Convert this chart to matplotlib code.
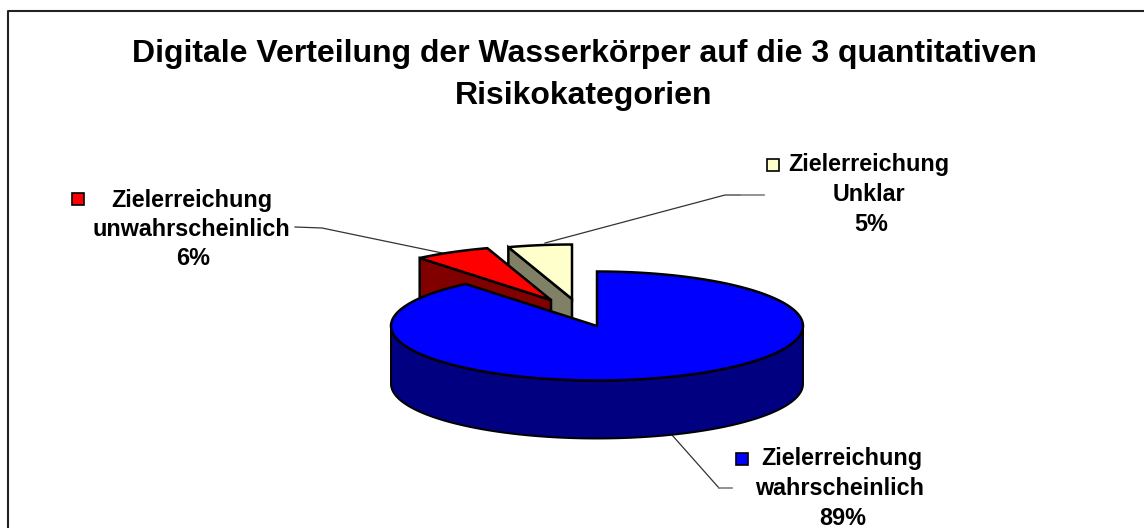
import numpy as np
import matplotlib
matplotlib.use('Agg')
import matplotlib.pyplot as plt
from matplotlib.patches import Polygon

plt.rcParams['font.family'] = ['Liberation Sans', 'DejaVu Sans']

title_lines = ['Digitale Verteilung der Wasserkörper auf die 3 quantitativen', 'Risikokategorien']
categories = [['Zielerreichung', 'Unklar'], ['Zielerreichung', 'unwahrscheinlich'], ['Zielerreichung', 'wahrscheinlich']]
shares = [5, 6, 89]
top_colors = ['#ffffcc', '#ff0000', '#0000ff']
side_colors = ['#808066', '#800000', '#000080']

cx, cy = 597, 326   # pie centre in pixels
rx, ry = 206, 54.5
depth = 58
explode = [(-25, -27), (-46, -26), (0, 0)]


def rim(t, dx=0, dy=0):
    t = np.radians(t)
    return np.column_stack([cx + dx + rx * np.cos(t), cy + dy - ry * np.sin(t)])


fig = plt.figure(figsize=(11.44, 5.28), dpi=100)
ax = fig.add_axes([0, 0, 1, 1])
ax.set_xlim(0, 1144)
ax.set_ylim(528, 0)
ax.axis('off')

# frame, right side is cut off in the original
ax.plot([7.5, 7.5, 1144], [528, 11, 11], color='#222222', lw=1.5)

# slices run counter clockwise from 12 o'clock
edges = 90 + np.cumsum([0] + shares) * 3.6
for i, share in enumerate(shares):
    a0, a1 = edges[i], edges[i + 1]
    dx, dy = explode[i]
    apex = np.array([[cx + dx, cy + dy]])
    arc = rim(np.linspace(a0, a1, 200), dx, dy)
    if i < 2:
        # cut face on the far edge of the slice
        p = rim(np.array([a1]), dx, dy)
        face = np.vstack([p, apex, apex + [0, depth], p + [0, depth]])
        ax.add_patch(Polygon(face, fc=side_colors[i], ec='black', lw=1.8, zorder=i + 2))
    else:
        # outer wall of the big slice, front half only
        t = np.linspace(180, 360, 200)
        wall = np.vstack([rim(t), rim(t[::-1], 0, depth)])
        ax.add_patch(Polygon(wall, fc=side_colors[i], ec='black', lw=1.4, zorder=i + 2))
    ax.add_patch(Polygon(np.vstack([apex, arc]), fc=top_colors[i], ec='black', lw=1.8, zorder=i + 2.5))

# leader lines
ax.plot([545, 725, 740], [243, 195, 195], color='#333333', lw=0.9, zorder=1)
ax.plot([740, 764], [195, 195], color='#808080', lw=1.2, zorder=1)
ax.plot([295, 322, 447], [227, 228, 254], color='#333333', lw=0.9, zorder=1)
ax.plot([672, 719], [435, 488], color='#333333', lw=0.9, zorder=1)
ax.plot([719, 732], [488, 488], color='#808080', lw=1.2, zorder=1)

fs = 16.8
line_x = [(868.5, 869, 871), (191.5, 191, 193), (841.5, 840, 843)]
line_y = [(171, 201, 231), (207, 236, 265), (465, 495, 525)]
key_pos = [(773, 165), (78, 199), (742, 459)]
for i, cat in enumerate(categories):
    lines = cat + [f'{shares[i]}%']
    for s, x, y in zip(lines, line_x[i], line_y[i]):
        ax.text(x, y, s, ha='center', va='baseline', fontsize=fs, fontweight='bold', color='black')
    ax.plot(*key_pos[i], marker='s', ms=9, mfc=top_colors[i], mec='black', mew=1.2, ls='none')

ax.text(584, 62, title_lines[0], ha='center', va='baseline', fontsize=23, fontweight='bold')
ax.text(584, 104, title_lines[1], ha='center', va='baseline', fontsize=23, fontweight='bold')

fig.savefig('out.png', dpi=100)
